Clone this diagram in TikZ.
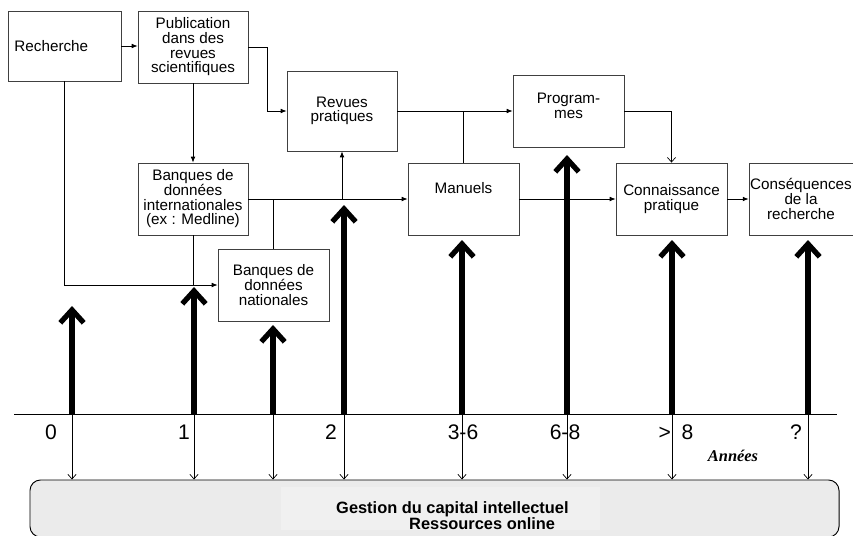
\documentclass[tikz,border=0pt]{standalone}
\usepackage{fontspec}
\setmainfont{Liberation Sans}
\newfontfamily\anneesfont{Liberation Serif}
\usetikzlibrary{arrows.meta}

\begin{document}
\begin{tikzpicture}[x=0.03cm,y=-0.03cm,
    box/.style={draw=black!75,line width=0.7pt,minimum width=3.33cm,minimum height=2.16cm,
      inner sep=1pt,align=center,font=\fontsize{13}{12.5}\selectfont},
    boxtext/.style={font=\fontsize{13}{12.5}\selectfont,align=center},
    flow/.style={line width=0.7pt,-{Latex[length=5pt,width=4pt]}},
    link/.style={line width=0.7pt},
    bigarrow/.style={line width=4.5pt,-{Straight Barb[length=11pt,width=20pt]}},
    drop/.style={line width=0.6pt,-{Straight Barb[length=4pt,width=7pt]}},
    year/.style={font=\fontsize{18}{18}\selectfont},
    gesttext/.style={anchor=base west,inner sep=0pt,font=\bfseries\fontsize{14}{14}\selectfont}]

  \useasboundingbox (0,0) rectangle (853,535);

  \node[box,minimum width=3.39cm,minimum height=2.1cm,text width=3.0cm,align=left] (rech) at (64.5,46) {Recherche};
  \node[box,minimum width=3.3cm] (pub) at (193,47) {Publication\\dans des\\revues\\scientifiques};
  \node[box,minimum width=3.3cm,minimum height=2.4cm] (revues) at (342,111) {Revues\\pratiques};
  \node[box,minimum width=3.3cm] (bdi) at (193,199) {Banques de\\données\\internationales\\(ex : Medline)};
  \node[box] (bdn) at (273.5,285) {Banques de\\données\\nationales};
  \node[box,label={[boxtext,yshift=1.5mm]center:Program-\\mes}] (prog) at (568.5,111) {};
  \node[box,label={[boxtext,yshift=3.3mm]center:Manuels}] (man) at (463.5,199) {};
  \node[box] (conn) at (671.5,199) {Connaissance\\pratique};
  \node[box,minimum width=3.06cm] (cons) at (801,199) {Conséquences\\de la\\recherche};

  \draw[flow] (rech.east) -- (rech.east -| pub.west);
  \draw[flow] (pub.east) -- ++(19,0) |- (revues.west);
  \draw[flow] (pub.south) -- (bdi.north);
  \draw[flow] (rech.south) |- (bdn.west);
  \draw[link] (bdi.south) -- (bdi.south |- bdn.west);
  \draw[flow] (bdi.east) -- (man.west);
  \draw[link] (bdn.north) -- (bdn.north |- bdi.east);
  \draw[flow] (revues.south |- bdi.east) -- (revues.south);
  \draw[flow] (revues.east) -- (prog.west);
  \draw[link] (man.north) -- (man.north |- revues.east);
  \draw[drop] (prog.east) -| (conn.north);
  \draw[flow] (man.east) -- (conn.west);
  \draw[flow] (conn.east) -- (cons.west);

  \node[draw=black,line width=0.8pt,fill=gray!16,rounded corners=9pt,
    minimum width=24.27cm,minimum height=1.71cm] (gestion) at (434.5,508.5) {};
  \node[fill=gray!12,inner sep=0pt,minimum width=9.57cm,minimum height=1.29cm] (panel) at (440.5,508.5) {};
  \node[gesttext] (gest1) at (336,513) {Gestion du capital intellectuel};
  \node[gesttext] (gest2) at (409,529) {Ressources online};

  \coordinate (axl) at (14,414);
  \coordinate (axr) at (837,414);
  \draw[line width=0.8pt] (axl) -- (axr);

  \foreach \n/\x/\ytip in {a/72/306, b/194/287, c/273/325, d/344/205, e/462/240, f/567/155, g/672/240, h/808/240}
  {
    \coordinate (base\n) at (\x,414);
    \coordinate (tip\n) at (\x,\ytip);
    \draw[bigarrow] (base\n) -- (tip\n);
    \draw[drop] (base\n) -- (base\n |- gestion.north);
  }

  \foreach \x/\yr in {51/0, 184/1, 331/2, 463/3-6, 565/6-8, 676/{>\enspace 8}, 796/?}
    \node[year] (yr\x) at (\x,432) {\yr};

  \node[font=\anneesfont\bfseries\itshape\fontsize{14}{14}\selectfont] (annees) at (733,456) {Années};

\end{tikzpicture}
\end{document}
